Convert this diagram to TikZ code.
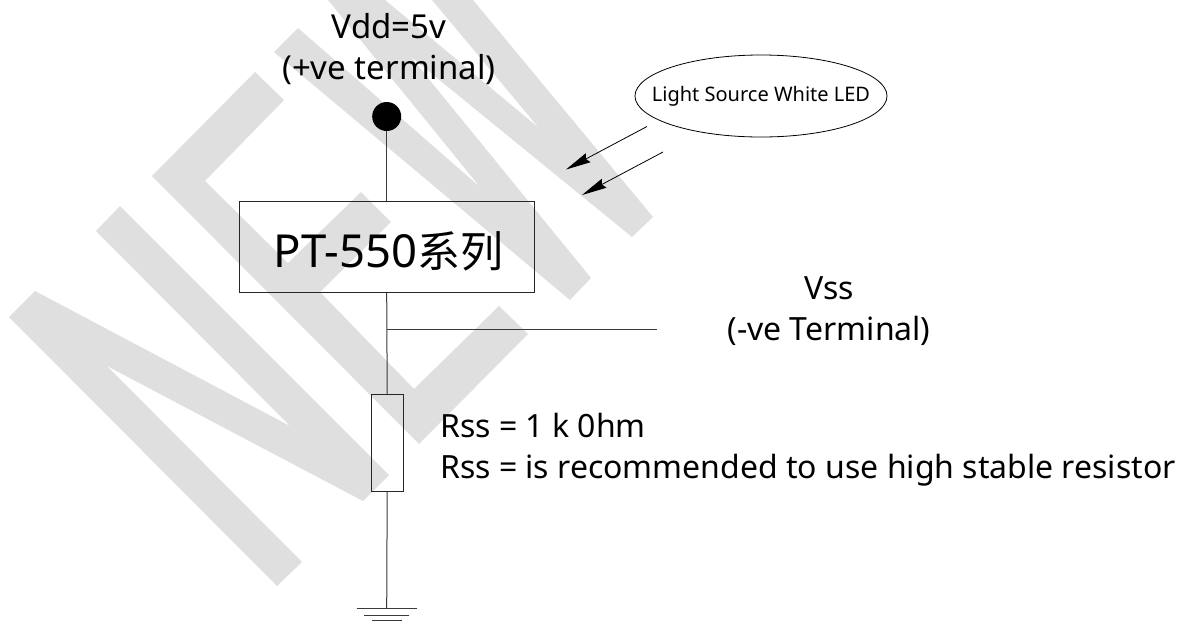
\documentclass[tikz,border=0pt]{standalone}
\usepackage{fontspec}
\usetikzlibrary{arrows.meta,shapes.geometric}
\setmainfont{Noto Sans}
\newfontfamily\cjk{Noto Sans CJK SC}
\definecolor{wm}{HTML}{DFDFDF}
\definecolor{ln}{HTML}{3A3A3A}
\tikzset{
  wmark/.style={fill=wm,draw=none},
  wire/.style={draw=ln,line width=1pt},
  solid box/.style={draw=black!85,line width=1pt,fill=none,inner sep=0pt},
  txt/.style={inner sep=0pt,align=center,text=black},
  ray/.style={draw=black,line width=0.8pt,-{Stealth[length=25pt,width=10pt,inset=2.5pt]}}
}
\begin{document}
\begin{tikzpicture}[x=1pt,y=-1pt]
\useasboundingbox (0,0) rectangle (1189,627);
\fill[white] (0,0) rectangle (1189,627);
% watermark
\begin{scope}
\clip (0,0) rectangle (1189,627);
\fill[wmark] (35,291)--(290,426)--(96,231)--(120,206)--(389,475)--(363,501)--(107,366)--(302,562)--(277,586)--(9,317)--cycle;
\fill[wmark] (255,72)--(284,100)--(205,181)--(288,263)--(361,192)--(391,222)--(320,292)--(414,389)--(499,306)--(528,334)--(419,444)--(152,176)--cycle;
\fill[wmark] (298,28)--(480,187)--(328,0)--(385,0)--(539,128)--(432,0)--(473,0)--(653,217)--(632,237)--(410,56)--(591,278)--(570,300)--(274,52)--cycle;
\end{scope}
% nodes
\node[txt,font=\fontsize{33}{41}\selectfont] (vdd) at (389,49) {Vdd=5v\\(+ve terminal)};
\node[circle,fill=black,minimum size=29pt,inner sep=0pt] (dot) at (386.7,116.5) {};
\node[solid box,minimum width=295pt,minimum height=91.5pt,anchor=north west] (pt) at (239,200.7) {};
\node[txt,font=\fontsize{45.5}{50}\selectfont] (ptl) at (388.5,251) {PT-550{\cjk\fontsize{43}{50}\selectfont 系列}};
\node[solid box,minimum width=32pt,minimum height=96.7pt,anchor=north west] (rss) at (370.7,394.3) {};
\coordinate (junc) at (386.7,329);
\coordinate (vssend) at (657,329);
\node[txt,font=\fontsize{32}{41}\selectfont] (vss) at (829,311) {Vss\\(-ve Terminal)};
\node[txt,align=left,anchor=west,font=\fontsize{32}{41}\selectfont] (rssl) at (440,450) {Rss = 1 k 0hm\\Rss = is recommended to use high stable resistor};
\node[draw=black,line width=0.8pt,ellipse,inner sep=0pt,minimum width=252pt,minimum height=82pt,fill=none,font=\fontsize{20}{22}\selectfont] (led) at (761,96) {\makebox[0pt][c]{Light Source White LED}};
\coordinate (gnd) at (386.7,608);
\coordinate (g1l) at (356.7,608); \coordinate (g1r) at (416.7,608);
\coordinate (g2l) at (364,615.7); \coordinate (g2r) at (409,615.7);
\coordinate (g3l) at (372,620); \coordinate (g3r) at (402,620);
\coordinate (a1s) at (647,126.5); \coordinate (a1e) at (566,169.5);
\coordinate (a2s) at (663,152); \coordinate (a2e) at (582,195);
% connectors
\draw[wire] (dot.south) -- (dot.south |- pt.north);
\draw[wire] (junc |- pt.south) -- (rss.north);
\draw[wire] (rss.south) -- (gnd);
\draw[wire] (junc) -- (vssend);
\draw[wire] (g1l) -- (g1r);
\draw[wire] (g2l) -- (g2r);
\draw[wire] (g3l) -- (g3r);
\draw[ray] (a1s) -- (a1e);
\draw[ray] (a2s) -- (a2e);
\end{tikzpicture}
\end{document}
